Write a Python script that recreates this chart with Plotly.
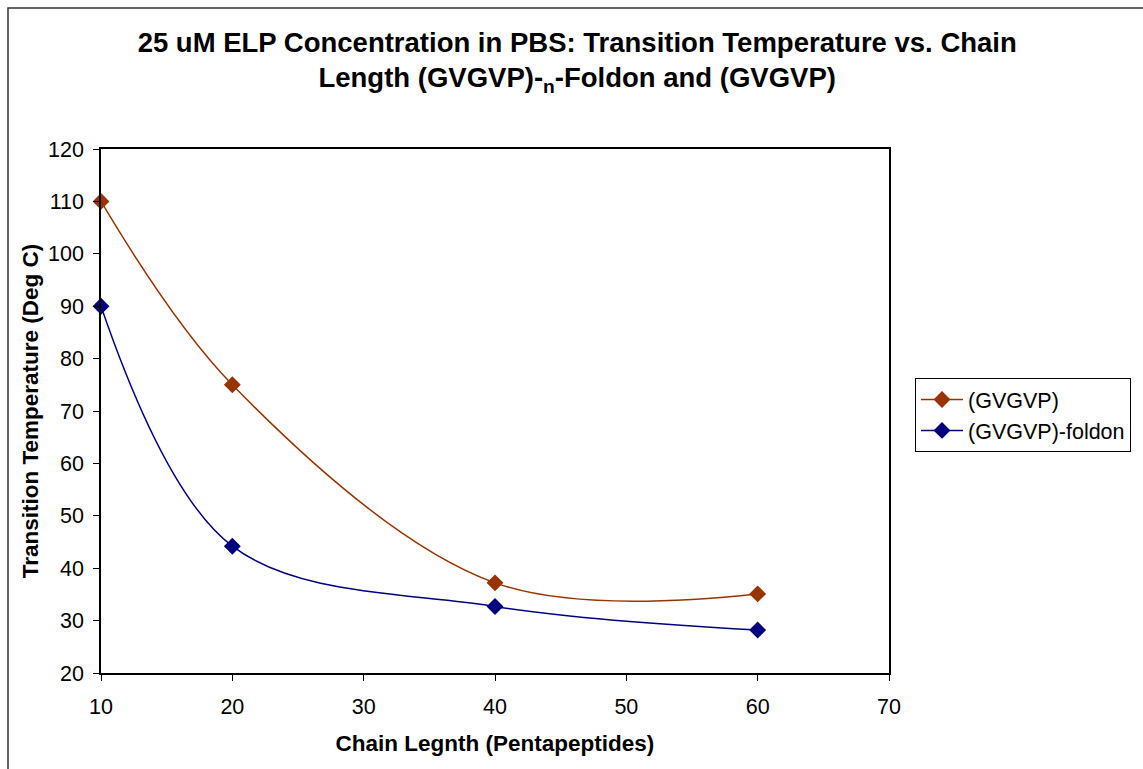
import plotly.graph_objects as go

chain_length = [10, 20, 40, 60]
gvgvp = [110, 75, 37.2, 35.1]
gvgvp_foldon = [90, 44.2, 32.7, 28.2]

x_ticks = [10, 20, 30, 40, 50, 60, 70]
y_ticks = [20, 30, 40, 50, 60, 70, 80, 90, 100, 110, 120]

FONT = "Arial, Liberation Sans, sans-serif"

fig = go.Figure()
fig.add_trace(go.Scatter(
    x=chain_length, y=gvgvp, name="(GVGVP)", mode="lines+markers",
    line=dict(color="#993300", width=1.5, shape="spline", smoothing=1.0),
    marker=dict(symbol="diamond", size=13, color="#993300"),
    cliponaxis=False, legendgroup="a"))
fig.add_trace(go.Scatter(
    x=chain_length, y=gvgvp_foldon, name="(GVGVP)-foldon", mode="lines+markers",
    line=dict(color="#000080", width=1.5, shape="spline", smoothing=1.0),
    marker=dict(symbol="diamond", size=13, color="#000080"),
    cliponaxis=False, legendgroup="b"))

fig.update_layout(
    width=1143, height=769,
    margin=dict(l=101, r=254, t=149, b=96),
    paper_bgcolor="white", plot_bgcolor="white",
    font=dict(family=FONT, color="black", size=21),
    title=dict(
        text="<b>25 uM ELP Concentration in PBS: Transition Temperature vs. Chain<br>"
             "Length (GVGVP)-<sub>n</sub>-Foldon and (GVGVP)</b>",
        x=0.505, xanchor="center", y=0.933, yanchor="top",
        font=dict(size=27.5, family=FONT, color="black")),
    xaxis=dict(
        range=[10, 70], tickvals=x_ticks, ticktext=[str(v) for v in x_ticks],
        showgrid=False, zeroline=False, showline=True, linecolor="black", linewidth=1.5,
        mirror=True, ticks="outside", ticklen=6, tickcolor="black", tickwidth=1,
        tickfont=dict(size=21.5, family=FONT), ticklabelstandoff=7,
        title=dict(text="<b>Chain Legnth (Pentapeptides)</b>", font=dict(size=22.5, family=FONT),
                   standoff=18)),
    yaxis=dict(
        range=[20, 120], tickvals=y_ticks, ticktext=[str(v) for v in y_ticks],
        showgrid=False, zeroline=False, showline=True, linecolor="black", linewidth=1.5,
        mirror=True, ticks="outside", ticklen=6, tickcolor="black", tickwidth=1,
        tickfont=dict(size=21.5, family=FONT), ticklabelstandoff=5,
        title=dict(text="<b>Transition Temperature (Deg C)</b>", font=dict(size=22.5, family=FONT),
                   standoff=3)),
    legend=dict(
        x=1.033, xanchor="left", y=0.563, yanchor="top",
        bordercolor="black", borderwidth=1, bgcolor="white",
        font=dict(size=21.5, family=FONT), traceorder="grouped", tracegroupgap=0,
        itemwidth=42),
    showlegend=True,
)

# outer chart border
fig.add_shape(type="rect", xref="paper", yref="paper",
              x0=(8 - 101) / 788, x1=1.5, y0=-0.5, y1=(673 - 8) / 524,
              line=dict(color="#333333", width=1.5), fillcolor="rgba(0,0,0,0)", layer="below")

fig.write_html("out.html")
